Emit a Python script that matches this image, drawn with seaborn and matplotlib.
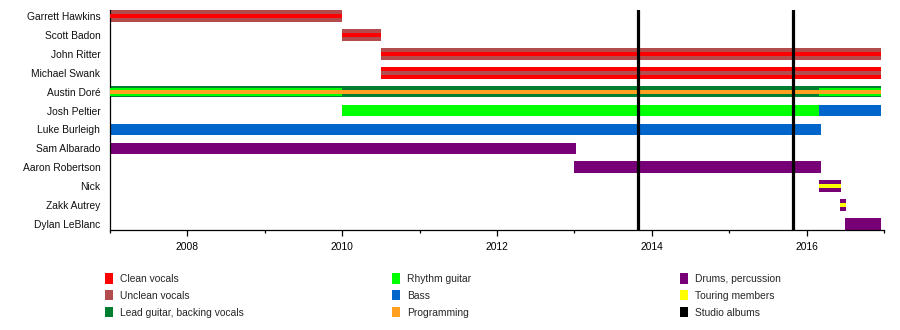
import matplotlib
matplotlib.use("Agg")
import matplotlib.pyplot as plt
from matplotlib.patches import Patch
from matplotlib.ticker import MultipleLocator, FormatStrFormatter
import seaborn as sns

# Band members, top to bottom
members = [
    "Garrett Hawkins", "Scott Badon", "John Ritter", "Michael Swank",
    "Austin Doré", "Josh Peltier", "Luke Burleigh", "Sam Albarado",
    "Aaron Robertson", "Nick", "Zakk Autrey", "Dylan LeBlanc",
]

# Roles and their colours
roles = [
    "Clean vocals", "Unclean vocals", "Lead guitar, backing vocals",
    "Rhythm guitar", "Bass", "Programming",
    "Drums, percussion", "Touring members", "Studio albums",
]
role_colors = [
    "#FF0000", "#B34D4D", "#007F33",
    "#00FF00", "#0066CC", "#FFA020",
    "#770077", "#FFFF00", "#000000",
]

# Tenure segments (decimal years); layer 0 = full bar, 1 = inner two thirds, 2 = inner third
seg_member = [
    "Garrett Hawkins", "Garrett Hawkins",
    "Scott Badon", "Scott Badon",
    "John Ritter", "John Ritter",
    "Michael Swank", "Michael Swank",
    "Austin Doré", "Austin Doré", "Austin Doré", "Austin Doré",
    "Josh Peltier", "Josh Peltier",
    "Luke Burleigh",
    "Sam Albarado",
    "Aaron Robertson",
    "Nick", "Nick",
    "Zakk Autrey", "Zakk Autrey",
    "Dylan LeBlanc",
]
seg_role = [
    "Unclean vocals", "Clean vocals",
    "Unclean vocals", "Clean vocals",
    "Unclean vocals", "Clean vocals",
    "Clean vocals", "Unclean vocals",
    "Lead guitar, backing vocals", "Rhythm guitar", "Rhythm guitar", "Programming",
    "Rhythm guitar", "Bass",
    "Bass",
    "Drums, percussion",
    "Drums, percussion",
    "Drums, percussion", "Touring members",
    "Drums, percussion", "Touring members",
    "Drums, percussion",
]
seg_start = [
    2007.0, 2007.0,
    2010.0, 2010.0,
    2010.5, 2010.5,
    2010.5, 2010.5,
    2007.0, 2007.0, 2016.16, 2007.0,
    2010.0, 2016.16,
    2007.0,
    2007.0,
    2013.0,
    2016.16, 2016.16,
    2016.43, 2016.43,
    2016.5,
]
seg_end = [
    2010.0, 2010.0,
    2010.5, 2010.5,
    2016.96, 2016.96,
    2016.96, 2016.96,
    2016.96, 2010.0, 2016.96, 2016.96,
    2016.16, 2016.96,
    2016.18,
    2013.02,
    2016.18,
    2016.44, 2016.44,
    2016.51, 2016.51,
    2016.96,
]
seg_layer = [
    0, 2,
    0, 2,
    0, 2,
    0, 2,
    0, 1, 1, 2,
    0, 0,
    0,
    0,
    0,
    0, 2,
    0, 2,
    0,
]

# Studio album releases
album_dates = [2013.82, 2015.83]

sns.set_theme(style="white")
plt.rcParams["font.family"] = ["Liberation Sans", "DejaVu Sans"]
plt.rcParams["font.size"] = 7.5

W, H = 900, 330
fig = plt.figure(figsize=(W / 100, H / 100), dpi=100)
ax = fig.add_axes([110 / W, (H - 230) / H, (884 - 110) / W, 220 / H])

color_of = dict(zip(roles, role_colors))
row_of = {m: i for i, m in enumerate(members)}
bar_h = 0.62
layer_frac = [1.0, 2 / 3, 1 / 3]

for m, r, s, e, lay in zip(seg_member, seg_role, seg_start, seg_end, seg_layer):
    ax.barh(row_of[m], e - s, left=s, height=bar_h * layer_frac[lay],
            color=color_of[r], linewidth=0, zorder=2 + lay)

for d in album_dates:
    ax.axvline(d, color=color_of["Studio albums"], lw=2.3, zorder=10)

ax.set_xlim(2007, 2017)
ax.set_ylim(len(members) - 1 + bar_h / 2, -bar_h / 2)
ax.set_yticks(range(len(members)))
ax.set_yticklabels(members)
ax.xaxis.set_major_locator(MultipleLocator(2))
ax.xaxis.set_minor_locator(MultipleLocator(1))
ax.xaxis.set_major_formatter(FormatStrFormatter("%d"))

sns.despine(ax=ax)
for sp in ("left", "bottom"):
    ax.spines[sp].set_color("black")
    ax.spines[sp].set_linewidth(0.9)
ax.tick_params(axis="y", length=0, pad=7, labelsize=7.4, colors="#111111")
ax.tick_params(axis="x", which="major", length=4, width=0.9, pad=5,
               labelsize=7.4, colors="black", bottom=True, direction="out")
ax.tick_params(axis="x", which="minor", length=2.5, width=0.9, bottom=True,
               direction="out", colors="black")
ax.grid(False)

# Legend: three columns of three roles each
col_x = [105, 392, 680]
for c in range(3):
    handles = [Patch(facecolor=color_of[r], edgecolor="none", label=r)
               for r in roles[c * 3:(c + 1) * 3]]
    fig.legend(handles=handles, loc="upper left",
               bbox_to_anchor=(col_x[c] / W, (H - 273) / H),
               frameon=False, borderpad=0, borderaxespad=0,
               handlelength=0.8, handleheight=1.2, handletextpad=0.65,
               labelspacing=0.6, fontsize=7.4)

fig.savefig("out.png", dpi=100, facecolor="white")
